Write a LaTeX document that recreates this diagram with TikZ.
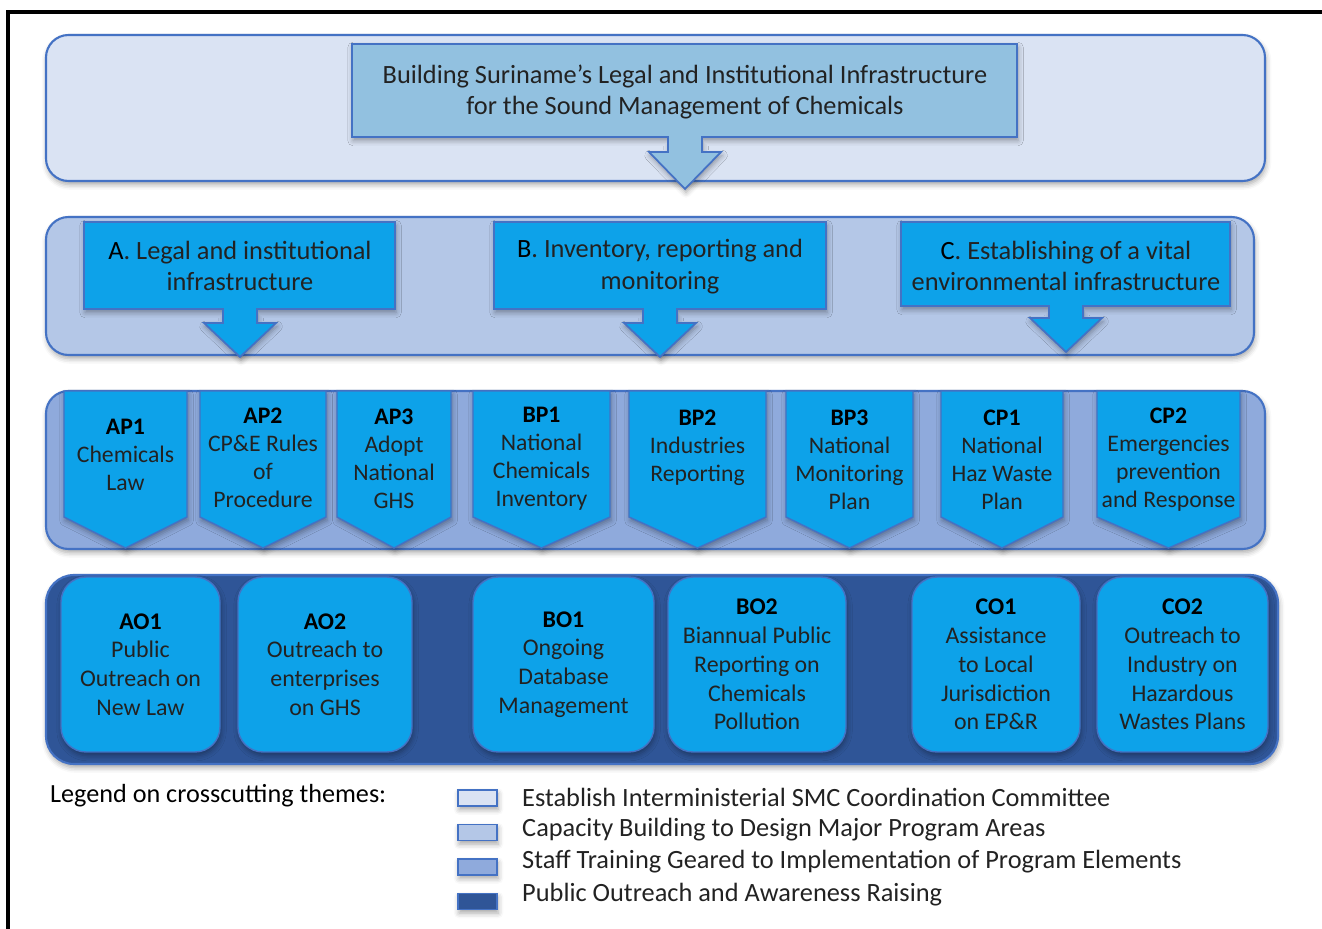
\documentclass[tikz,border=0pt]{standalone}
\usepackage{fontspec}
\setmainfont{Carlito}
\usepackage{xcolor}
\usetikzlibrary{shadows.blur}

\definecolor{sheet}{HTML}{DAE3F3}
\definecolor{pale}{HTML}{B4C7E7}
\definecolor{mid}{HTML}{8FAADC}
\definecolor{deep}{HTML}{2F5597}
\definecolor{edge}{HTML}{4472C4}
\definecolor{steel}{HTML}{92C1E0}
\definecolor{sky}{HTML}{0DA2E9}
\definecolor{ink}{HTML}{222222}

\tikzset{
  soft/.style={blur shadow={shadow xshift=0.6pt, shadow yshift=-2pt,
                            shadow blur radius=3pt, shadow opacity=35}},
  band/.style={draw=edge, line width=1.2pt, rounded corners=0.45cm, soft},
  callout/.style={draw=edge, line width=1pt, soft},
  chevron/.style={draw=edge, line width=0.8pt, fill=sky, soft},
  obox/.style={draw=edge, line width=0.8pt, fill=sky, rounded corners=0.5cm,
               minimum height=3.5cm, align=center, text=ink, soft,
               font=\fontsize{13.6}{16.4}\selectfont},
  headtxt/.style={align=center, text=ink, font=\fontsize{15}{18.1}\selectfont},
  bodytxt/.style={align=center, text=ink, font=\fontsize{13.5}{15.9}\selectfont},
  keybox/.style={draw=edge, line width=1pt, soft},
  keytxt/.style={anchor=west, text=ink, font=\fontsize{15}{17}\selectfont}
}

\begin{document}
\begin{tikzpicture}[x=0.02cm, y=-0.02cm]
  \useasboundingbox (0,0) rectangle (1322,929);
  \draw[line width=2pt] (8,929) -- (8,12) -- (1322,12);

  % the four bands
  \draw[band, fill=sheet] (46,35) rectangle (1265,181);
  \draw[band, fill=pale] (46,217) rectangle (1254,355);
  \draw[band, fill=mid] (46,391) rectangle (1265,549);
  \draw[band, fill=deep, rounded corners=0.56cm] (46,575) rectangle (1278,764);

  % goal and program area callouts (left/right/top/bottom/middle/head/tip)
  \foreach \n/\l/\r/\t/\b/\m/\hd/\tp/\col in {goal/352/1017/44/137/685/152/189/steel,
                                             progA/84/395/222/309/240/323/357/sky,
                                             progB/494/826/222/309/660/323/357/sky,
                                             progC/901/1230/222/306/1066/318/352/sky}{
    \draw[callout, fill=\col] (\l,\t) -- (\r,\t) -- (\r,\b) -- (\m+17,\b) -- (\m+17,\hd)
      -- (\m+36,\hd) -- (\m,\tp) -- (\m-36,\hd) -- (\m-17,\hd) -- (\m-17,\b)
      -- (\l,\b) -- cycle;
  }
  \node[headtxt] (goal) at (685,92) {Building Suriname’s Legal and Institutional Infrastructure\\
                                      for the Sound Management of Chemicals};
  \node[headtxt] (progA) at (240,266) {{\color{black}A}. Legal and institutional\\infrastructure};
  \node[headtxt] (progB) at (660,267) {{\color{black}B}. Inventory, reporting and\\monitoring};
  \node[headtxt] (progC) at (1066,266) {{\color{black}C}. Establishing of a vital\\environmental infrastructure};

  % program elements
  \foreach \n/\l/\r/\ty/\txt in {AP1/64/187/455/{Chemicals\\Law},
                                 AP2/200/326/458/{CP\&E Rules\\of\\Procedure},
                                 AP3/337/451/459/{Adopt\\National\\GHS},
                                 BP1/473/610/459/{National\\Chemicals\\Inventory},
                                 BP2/629/766/448/{Industries\\Reporting},
                                 BP3/786/913/460/{National\\Monitoring\\Plan},
                                 CP1/941/1063/460/{National\\Haz Waste\\Plan},
                                 CP2/1097/1240/460/{Emergencies\\prevention\\and Response}}{
    \pgfmathsetmacro\c{(\l+\r)/2}
    \draw[chevron] (\l,391) -- (\r,391) -- (\r,517) -- (\c,548) -- (\l,517) -- cycle;
    \node[bodytxt] (\n) at (\c,\ty) {{\color{black}\bfseries \n}\\\txt};
  }

  % outreach activities
  \foreach \n/\x/\w/\txt in {AO1/140.5/159/{Public\\Outreach on\\New Law},
                             AO2/325/174/{Outreach to\\enterprises\\on GHS},
                             BO1/563.5/181/{Ongoing\\Database\\Management},
                             BO2/757/178/{Biannual Public\\Reporting on\\Chemicals\\Pollution},
                             CO1/996/168/{Assistance\\to Local\\Jurisdiction\\on EP\&R},
                             CO2/1182.5/171/{Outreach to\\Industry on\\Hazardous\\Wastes Plans}}{
    \node[obox, minimum width=\w*0.02cm] (\n) at (\x,664.5) {{\color{black}\bfseries \n}\\\txt};
  }

  % legend
  \node[anchor=west, font=\fontsize{14.9}{17}\selectfont] (legend) at (44,796)
    {Legend on crosscutting themes:};
  \foreach \col/\txt [count=\i from 0] in {sheet/Establish Interministerial SMC Coordination Committee,
                                           pale/Capacity Building to Design Major Program Areas,
                                           mid/Staff Training Geared to Implementation of Program Elements,
                                           deep/Public Outreach and Awareness Raising}{
    \draw[keybox, fill=\col] (458,790+\i*34.5) rectangle ++(39,16);
    \node[keytxt] (key\i) at (516,797+\i*32.4) {\txt};
  }
\end{tikzpicture}
\end{document}
